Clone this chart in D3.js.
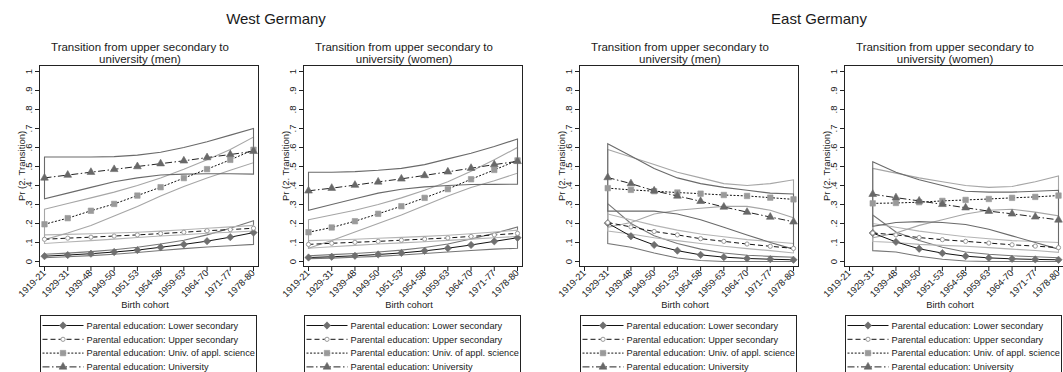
<!DOCTYPE html>
<html>
<head>
<meta charset="utf-8">
<script src="https://cdn.jsdelivr.net/npm/d3@7"></script>
<style>
  body { margin: 0; background: #fff; }
  svg { display: block; }
  text { font-family: "Liberation Sans", Arial, sans-serif; fill: #1a1a1a; }
</style>
</head>
<body>
<svg id="chart" width="1063" height="372"></svg>
<script>
// Birth cohorts on the x axis
const cohorts = ["1919-21", "1929-31", "1939-48", "1949-50", "1951-53", "1954-58", "1959-63", "1964-70", "1971-77", "1978-80"];
const yTicks = [0, .1, .2, .3, .4, .5, .6, .7, .8, .9, 1];
const yTickLabels = ["0", ".1", ".2", ".3", ".4", ".5", ".6", ".7", ".8", ".9", "1"];
const levels = ["Lower secondary", "Upper secondary", "Univ. of appl. science", "University"];

// West Germany, men: predicted probability and 95% bounds
const wmLowSec   = [0.028, 0.034, 0.041, 0.050, 0.060, 0.075, 0.090, 0.107, 0.128, 0.152];
const wmLowSecLo = [0.020, 0.025, 0.031, 0.038, 0.047, 0.058, 0.068, 0.076, 0.083, 0.090];
const wmLowSecHi = [0.038, 0.044, 0.052, 0.062, 0.075, 0.092, 0.112, 0.140, 0.175, 0.215];
const wmUppSec   = [0.117, 0.123, 0.128, 0.134, 0.140, 0.147, 0.154, 0.162, 0.168, 0.175];
const wmUppSecLo = [0.095, 0.103, 0.110, 0.118, 0.126, 0.134, 0.141, 0.149, 0.154, 0.160];
const wmUppSecHi = [0.140, 0.143, 0.146, 0.150, 0.154, 0.160, 0.167, 0.175, 0.182, 0.190];
const wmUas      = [0.196, 0.228, 0.267, 0.303, 0.347, 0.391, 0.439, 0.486, 0.535, 0.588];
const wmUasLo    = [0.115, 0.150, 0.190, 0.240, 0.290, 0.345, 0.395, 0.440, 0.480, 0.520];
const wmUasHi    = [0.275, 0.305, 0.335, 0.365, 0.400, 0.440, 0.485, 0.535, 0.590, 0.655];
const wmUni      = [0.440, 0.455, 0.470, 0.485, 0.500, 0.515, 0.530, 0.547, 0.563, 0.580];
const wmUniLo    = [0.330, 0.360, 0.390, 0.420, 0.440, 0.455, 0.460, 0.462, 0.462, 0.460];
const wmUniHi    = [0.550, 0.550, 0.550, 0.552, 0.560, 0.575, 0.600, 0.630, 0.665, 0.700];

// West Germany, women
const wwLowSec   = [0.021, 0.025, 0.030, 0.037, 0.045, 0.056, 0.070, 0.087, 0.106, 0.125];
const wwLowSecLo = [0.015, 0.018, 0.022, 0.027, 0.034, 0.042, 0.050, 0.058, 0.065, 0.070];
const wwLowSecHi = [0.030, 0.036, 0.042, 0.050, 0.060, 0.074, 0.092, 0.118, 0.148, 0.182];
const wwUppSec   = [0.090, 0.096, 0.101, 0.106, 0.112, 0.118, 0.124, 0.132, 0.140, 0.148];
const wwUppSecLo = [0.070, 0.078, 0.085, 0.092, 0.098, 0.104, 0.111, 0.118, 0.125, 0.132];
const wwUppSecHi = [0.110, 0.113, 0.117, 0.122, 0.127, 0.132, 0.138, 0.146, 0.155, 0.165];
const wwUas      = [0.154, 0.179, 0.212, 0.251, 0.291, 0.335, 0.381, 0.433, 0.482, 0.532];
const wwUasLo    = [0.070, 0.110, 0.155, 0.200, 0.245, 0.295, 0.345, 0.390, 0.425, 0.465];
const wwUasHi    = [0.220, 0.245, 0.270, 0.300, 0.335, 0.375, 0.420, 0.475, 0.535, 0.600];
const wwUni      = [0.372, 0.386, 0.402, 0.419, 0.435, 0.453, 0.472, 0.491, 0.510, 0.527];
const wwUniLo    = [0.270, 0.300, 0.330, 0.360, 0.380, 0.393, 0.400, 0.405, 0.406, 0.407];
const wwUniHi    = [0.470, 0.470, 0.473, 0.480, 0.490, 0.510, 0.540, 0.570, 0.605, 0.645];

// East Germany, men (no estimate for the 1919-21 cohort)
const emLowSec   = [null, 0.202, 0.133, 0.087, 0.057, 0.035, 0.023, 0.016, 0.012, 0.009];
const emLowSecLo = [null, 0.095, 0.075, 0.045, 0.018, 0.005, 0.000, 0.000, 0.000, 0.000];
const emLowSecHi = [null, 0.305, 0.200, 0.135, 0.095, 0.065, 0.045, 0.033, 0.027, 0.022];
const emUppSec   = [null, 0.205, 0.182, 0.158, 0.140, 0.120, 0.106, 0.092, 0.080, 0.069];
const emUppSecLo = [null, 0.160, 0.145, 0.125, 0.110, 0.095, 0.080, 0.068, 0.057, 0.045];
const emUppSecHi = [null, 0.250, 0.220, 0.190, 0.165, 0.145, 0.130, 0.115, 0.105, 0.095];
const emUas      = [null, 0.386, 0.377, 0.370, 0.363, 0.357, 0.350, 0.345, 0.336, 0.327];
const emUasLo    = [null, 0.180, 0.205, 0.250, 0.270, 0.280, 0.290, 0.290, 0.270, 0.230];
const emUasHi    = [null, 0.590, 0.550, 0.510, 0.470, 0.440, 0.410, 0.400, 0.410, 0.430];
const emUni      = [null, 0.442, 0.410, 0.372, 0.345, 0.317, 0.287, 0.260, 0.234, 0.209];
const emUniLo    = [null, 0.265, 0.265, 0.265, 0.250, 0.220, 0.180, 0.140, 0.100, 0.065];
const emUniHi    = [null, 0.620, 0.555, 0.490, 0.440, 0.410, 0.390, 0.375, 0.360, 0.355];

// East Germany, women
const ewLowSec   = [null, 0.150, 0.103, 0.067, 0.044, 0.028, 0.019, 0.014, 0.011, 0.009];
const ewLowSecLo = [null, 0.057, 0.050, 0.028, 0.012, 0.003, 0.000, 0.000, 0.000, 0.000];
const ewLowSecHi = [null, 0.245, 0.155, 0.110, 0.075, 0.050, 0.038, 0.030, 0.025, 0.020];
const ewUppSec   = [null, 0.150, 0.140, 0.126, 0.115, 0.106, 0.097, 0.088, 0.081, 0.073];
const ewUppSecLo = [null, 0.105, 0.100, 0.090, 0.085, 0.080, 0.073, 0.065, 0.058, 0.048];
const ewUppSecHi = [null, 0.200, 0.180, 0.160, 0.145, 0.130, 0.120, 0.110, 0.105, 0.100];
const ewUas      = [null, 0.306, 0.308, 0.312, 0.319, 0.324, 0.329, 0.335, 0.340, 0.347];
const ewUasLo    = [null, 0.125, 0.150, 0.190, 0.220, 0.250, 0.270, 0.275, 0.260, 0.240];
const ewUasHi    = [null, 0.490, 0.465, 0.440, 0.420, 0.400, 0.390, 0.395, 0.420, 0.450];
const ewUni      = [null, 0.354, 0.336, 0.319, 0.301, 0.283, 0.265, 0.251, 0.235, 0.219];
const ewUniLo    = [null, 0.185, 0.205, 0.210, 0.205, 0.195, 0.170, 0.135, 0.100, 0.065];
const ewUniHi    = [null, 0.525, 0.470, 0.430, 0.400, 0.370, 0.365, 0.365, 0.370, 0.375];

// Visual style per parental-education level
const styles = [
  { ci: "#767676", dash: null,            sym: d3.symbolDiamond2, size: 34, fill: "#6f6f6f", stroke: "#6f6f6f", line: "#111" },
  { ci: "#b4b4b4", dash: "5,3",           sym: d3.symbolCircle,   size: 14, fill: "#fff",    stroke: "#9a9a9a", line: "#111" },
  { ci: "#a6a6a6", dash: "2,1.6",         sym: d3.symbolSquare,   size: 30, fill: "#9a9a9a", stroke: "#9a9a9a", line: "#111" },
  { ci: "#6a6a6a", dash: "7,2.5,1.5,2.5", sym: d3.symbolTriangle, size: 26, fill: "#686868", stroke: "#686868", line: "#222" }
];

const panels = [
  { title2: "university (men)",   x0: 39.5,  x1: 258.5, data: [[wmLowSec, wmLowSecLo, wmLowSecHi], [wmUppSec, wmUppSecLo, wmUppSecHi], [wmUas, wmUasLo, wmUasHi], [wmUni, wmUniLo, wmUniHi]] },
  { title2: "university (women)", x0: 303.5, x1: 522.5, data: [[wwLowSec, wwLowSecLo, wwLowSecHi], [wwUppSec, wwUppSecLo, wwUppSecHi], [wwUas, wwUasLo, wwUasHi], [wwUni, wwUniLo, wwUniHi]] },
  { title2: "university (men)",   x0: 579.5, x1: 798.5, data: [[emLowSec, emLowSecLo, emLowSecHi], [emUppSec, emUppSecLo, emUppSecHi], [emUas, emUasLo, emUasHi], [emUni, emUniLo, emUniHi]] },
  { title2: "university (women)", x0: 844.5, x1: 1063.5, data: [[ewLowSec, ewLowSecLo, ewLowSecHi], [ewUppSec, ewUppSecLo, ewUppSecHi], [ewUas, ewUasLo, ewUasHi], [ewUni, ewUniLo, ewUniHi]] }
];

const svg = d3.select("#chart");
const plotTop = 65.5, plotBottom = 266.5;
const y = d3.scaleLinear().domain([0, 1]).range([261.5, 71.5]);

// Country headings
svg.append("text").attr("x", 276).attr("y", 23.5).attr("text-anchor", "middle")
  .style("font-size", "15px").text("West Germany");
svg.append("text").attr("x", 819).attr("y", 23.5).attr("text-anchor", "middle")
  .style("font-size", "15px").text("East Germany");

panels.forEach(p => {
  const g = svg.append("g");
  const x = d3.scalePoint().domain(cohorts).range([p.x0 + 5, p.x1 - 5]);
  const cx = (p.x0 + p.x1) / 2 - 9;

  // Panel title (two lines)
  g.append("text").attr("x", cx).attr("y", 50.5).attr("text-anchor", "middle")
    .style("font-size", "11.5px").text("Transition from upper secondary to");
  g.append("text").attr("x", cx).attr("y", 62.5).attr("text-anchor", "middle")
    .style("font-size", "11.5px").text(p.title2);

  // Plot region frame
  g.append("rect").attr("x", p.x0).attr("y", plotTop)
    .attr("width", p.x1 - p.x0).attr("height", plotBottom - plotTop)
    .attr("fill", "none").attr("stroke", "#222").attr("stroke-width", 1);

  // Y axis ticks and labels
  const yAx = g.append("g");
  yTicks.forEach((t, i) => {
    yAx.append("line").attr("x1", p.x0 - 4.5).attr("x2", p.x0).attr("y1", y(t)).attr("y2", y(t))
      .attr("stroke", "#222");
    yAx.append("text").attr("transform", `translate(${p.x0 - 8},${y(t)}) rotate(-90)`)
      .attr("text-anchor", "middle").style("font-size", "9.5px").text(yTickLabels[i]);
  });
  g.append("text").attr("transform", `translate(${p.x0 - 15},${(plotTop + plotBottom) / 2}) rotate(-90)`)
    .attr("text-anchor", "middle").style("font-size", "9.5px").text("Pr (2. Transition)");

  // X axis ticks and rotated labels
  cohorts.forEach(c => {
    g.append("line").attr("x1", x(c)).attr("x2", x(c)).attr("y1", plotBottom).attr("y2", plotBottom + 4.5)
      .attr("stroke", "#222");
    g.append("text").attr("transform", `translate(${x(c) + 2},${plotBottom + 7}) rotate(-45)`)
      .attr("text-anchor", "end").style("font-size", "9.3px").text(c);
  });
  g.append("text").attr("x", (p.x0 + p.x1) / 2 - 4).attr("y", 307.5).attr("text-anchor", "middle")
    .style("font-size", "9.3px").text("Birth cohort");

  // Confidence bands drawn as outlined polygons
  p.data.forEach((s, k) => {
    const pts = cohorts.map((c, i) => ({ c, lo: s[1][i], hi: s[2][i] })).filter(d => d.lo != null);
    const area = d3.area().x(d => x(d.c)).y0(d => y(d.lo)).y1(d => y(d.hi));
    g.append("path").attr("d", area(pts) + "Z").attr("fill", "none")
      .attr("stroke", styles[k].ci).attr("stroke-width", 1.1);
  });

  // Connected estimates
  p.data.forEach((s, k) => {
    const st = styles[k];
    const pts = cohorts.map((c, i) => ({ c, v: s[0][i] })).filter(d => d.v != null);
    const line = d3.line().x(d => x(d.c)).y(d => y(d.v));
    g.append("path").attr("d", line(pts)).attr("fill", "none")
      .attr("stroke", st.line).attr("stroke-width", 1)
      .attr("stroke-dasharray", st.dash);
    g.selectAll(null).data(pts).enter().append("path")
      .attr("transform", d => `translate(${x(d.c)},${y(d.v)})`)
      .attr("d", d3.symbol().type(st.sym).size(st.size)())
      .attr("fill", st.fill).attr("stroke", st.stroke).attr("stroke-width", k === 1 ? 1 : 0.6);
  });

  // Legend
  const lx = p.x0 + 1, ly = 315.5;
  const lg = g.append("g");
  lg.append("rect").attr("x", lx).attr("y", ly).attr("width", p.x1 - p.x0 - 3).attr("height", 70)
    .attr("fill", "#fff").attr("stroke", "#222");
  levels.forEach((lab, k) => {
    const st = styles[k];
    const ry = ly + 10 + k * 13.8;
    lg.append("line").attr("x1", lx + 2).attr("x2", lx + 43).attr("y1", ry).attr("y2", ry)
      .attr("stroke", st.line).attr("stroke-width", 1).attr("stroke-dasharray", st.dash);
    lg.append("path").attr("transform", `translate(${lx + 22.5},${ry})`)
      .attr("d", d3.symbol().type(st.sym).size(st.size)())
      .attr("fill", st.fill).attr("stroke", st.stroke).attr("stroke-width", k === 1 ? 1 : 0.6);
    lg.append("text").attr("x", lx + 46).attr("y", ry + 3.2)
      .style("font-size", "9.2px").text("Parental education: " + lab);
  });
});
</script>
</body>
</html>
